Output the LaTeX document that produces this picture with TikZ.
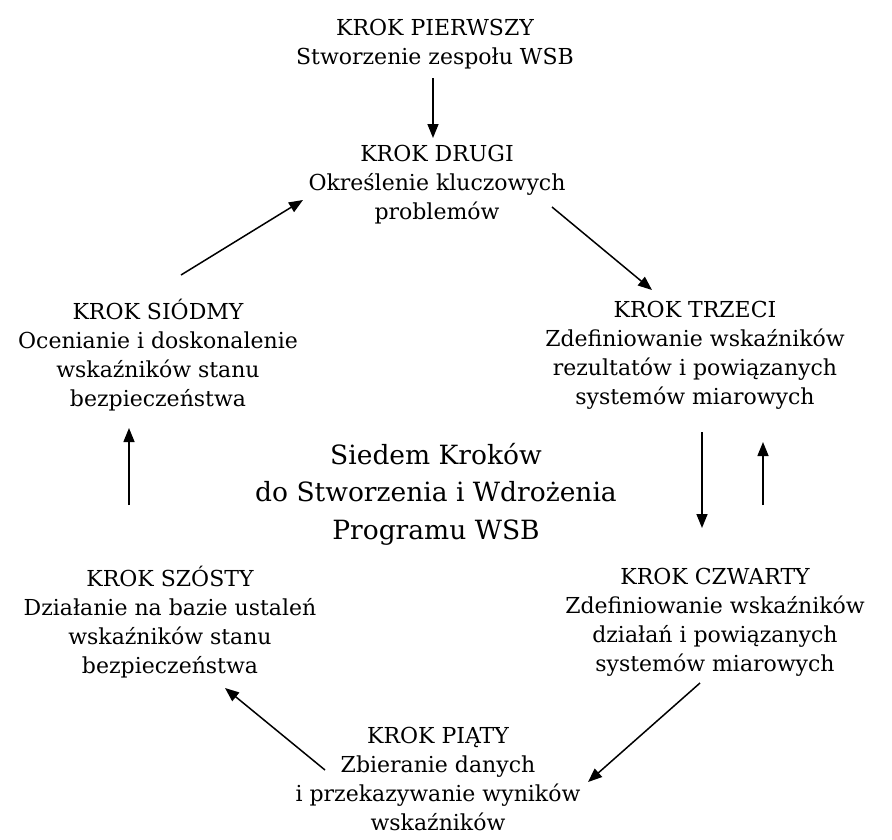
\documentclass[tikz,border=0pt]{standalone}
\usepackage{fontspec}
\setmainfont{DejaVu Serif}
\usetikzlibrary{arrows.meta}
\tikzset{%
krok/.style={align=center,font=\fontsize{22}{29}\selectfont,inner sep=0pt},
tytul/.style={align=center,font=\fontsize{26.5}{37.5}\selectfont,inner sep=0pt},
strzalka/.style={-{Triangle[length=14pt,width=11pt]},line width=1.5pt}
}

\begin{document}
\begin{tikzpicture}[x=1pt,y=-1pt]
  \useasboundingbox (0,0) rectangle (892,839);

  \node[krok] (pierwszy) at (435,44) {KROK PIERWSZY\\Stworzenie zespołu WSB};
  \node[krok] (drugi) at (437,185) {KROK DRUGI\\Określenie kluczowych\\problemów};
  \node[krok] (trzeci) at (695,355) {KROK TRZECI\\Zdefiniowanie wskaźników\\rezultatów i powiązanych\\systemów miarowych};
  \node[krok] (czwarty) at (715,622) {KROK CZWARTY\\Zdefiniowanie wskaźników\\działań i powiązanych\\systemów miarowych};
  \node[krok] (piaty) at (438,779) {KROK PIĄTY\\Zbieranie danych\\i przekazywanie wyników\\wskaźników};
  \node[krok] (szosty) at (170,622) {KROK SZÓSTY\\Działanie na bazie ustaleń\\wskaźników stanu\\bezpieczeństwa};
  \node[krok] (siodmy) at (158,355) {KROK SIÓDMY\\Ocenianie i doskonalenie\\wskaźników stanu\\bezpieczeństwa};
  \node[tytul] (tytul) at (436,494) {Siedem Kroków\\do Stworzenia i Wdrożenia\\Programu WSB};

  % cykl krokow
  \draw[strzalka] ([shift={(-2,34)}]pierwszy.center) -- ([shift={(-4,-47)}]drugi.center);
  \draw[strzalka] ([shift={(115,22)}]drugi.center) -- ([shift={(-43,-65)}]trzeci.center);
  \draw[strzalka] ([shift={(7,77)}]trzeci.center) -- ([shift={(-13,-94)}]czwarty.center);
  \draw[strzalka] ([shift={(48,-117)}]czwarty.center) -- ([shift={(68,87)}]trzeci.center);
  \draw[strzalka] ([shift={(-15,61)}]czwarty.center) -- ([shift={(150,3)}]piaty.center);
  \draw[strzalka] ([shift={(-113,-9)}]piaty.center) -- ([shift={(55,66)}]szosty.center);
  \draw[strzalka] ([shift={(-41,-117)}]szosty.center) -- ([shift={(-29,73)}]siodmy.center);
  \draw[strzalka] ([shift={(23,-80)}]siodmy.center) -- ([shift={(-134,15)}]drugi.center);

\end{tikzpicture}
\end{document}
